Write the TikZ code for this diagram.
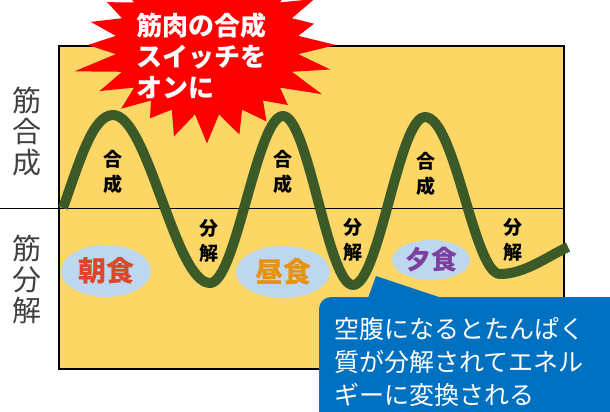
\documentclass[tikz,border=0pt]{standalone}
\usepackage{fontspec}
\newfontfamily\cjk{Noto Sans CJK JP}
\usetikzlibrary{shapes.geometric}
\definecolor{boxfill}{HTML}{FDD766}
\definecolor{wavegreen}{HTML}{3B5A27}
\definecolor{burstred}{HTML}{FF0000}
\definecolor{calloutblue}{HTML}{0070C0}
\definecolor{mealblue}{HTML}{BDD7EE}
\definecolor{asared}{HTML}{D9482B}
\definecolor{hiruorange}{HTML}{E8900F}
\definecolor{yupurple}{HTML}{7B3F9E}
\definecolor{sidegray}{HTML}{404040}
\tikzset{
  sidelabel/.style={align=center, inner sep=0pt, text=sidegray, font=\cjk\fontsize{29}{31}\selectfont},
  wavelabel/.style={align=center, inner sep=0pt, font=\cjk\bfseries\fontsize{19}{25}\selectfont},
  meal/.style={ellipse, fill=mealblue, inner sep=0pt, font=\cjk\bfseries\fontsize{28}{28}\selectfont},
}
\begin{document}
\begin{tikzpicture}[x=1pt,y=-1pt]
\path[use as bounding box] (0,0) rectangle (610,412);
\clip (0,0) rectangle (610,412);
% main box
\node[draw=black, line width=2pt, fill=boxfill, minimum width=505pt, minimum height=323pt, inner sep=0pt, anchor=north west] (box) at (58,45) {};
\coordinate (hl) at (0,208);
\coordinate (hr) at (563,208);
\draw[line width=1pt] (hl) -- (hr);
% side labels
\node[sidelabel] (syn) at (27,132) {筋\\合\\成};
\node[sidelabel] (deg) at (27,279) {筋\\分\\解};
% meals
\node[meal, minimum width=90pt, minimum height=52pt, text=asared] (asa) at (106,271) {朝食};
\node[meal, minimum width=94pt, minimum height=52pt, text=hiruorange] (hiru) at (283,272) {昼食};
\node[meal, minimum width=78pt, minimum height=40pt, text=yupurple, font=\cjk\bfseries\fontsize{26}{26}\selectfont] (yu) at (431,260) {夕食};
% wave labels
\node[wavelabel] (g1) at (113,172) {合\\成};
\node[wavelabel] (g2) at (283,172) {合\\成};
\node[wavelabel] (g3) at (426,174) {合\\成};
\node[wavelabel] (b1) at (209,241) {分\\解};
\node[wavelabel] (b2) at (353,240) {分\\解};
\node[wavelabel] (b3) at (513,240) {分\\解};
% wave
\coordinate (w0) at (63,208);
\coordinate (p1) at (113,115);
\coordinate (t1) at (210,283);
\coordinate (p2) at (283,116);
\coordinate (t2) at (353,285);
\coordinate (p3) at (425,117);
\coordinate (t3) at (500,274);
\coordinate (wend) at (568,247);
\draw[wavegreen, line width=10pt, line join=round]
  (w0) .. controls (80,160) and (93,115) .. (p1)
       .. controls (148,115) and (175,283) .. (t1)
       .. controls (236,283) and (257,116) .. (p2)
       .. controls (308,116) and (328,285) .. (t2)
       .. controls (379,285) and (399,117) .. (p3)
       .. controls (455,117) and (474,274) .. (t3)
       .. controls (525,274) and (548,256) .. (wend);
% starburst
\fill[burstred] plot[samples at={0,7.5,...,352.5}]
  ({207 + (mod(\x,15)<1 ? 124*(1+0.07*sin(5*\x)+0.04*cos(11*\x)) : 92)*cos(\x)},
   {45 + (mod(\x,15)<1 ? 92*(1+0.07*sin(5*\x)+0.04*cos(11*\x)) : 70)*sin(\x)}) -- cycle;
\node[anchor=west, align=left, inner sep=0pt, text=white, font=\cjk\bfseries\fontsize{26}{31}\selectfont] (bursttext) at (136,56) {筋肉の合成\\スイッチを\\オンに};
% callout
\fill[calloutblue, rounded corners=12pt] (319,297) rectangle (660,460);
\coordinate (ptip) at (376,276);
\fill[calloutblue] (368,298) -- (ptip) -- (442,298) -- cycle;
\node[anchor=west, align=left, inner sep=0pt, text=white, font=\cjk\fontsize{25}{33}\selectfont] (callout) at (334,362) {空腹になるとたんぱく\\質が分解されてエネル\\ギーに変換される};
\end{tikzpicture}
\end{document}
